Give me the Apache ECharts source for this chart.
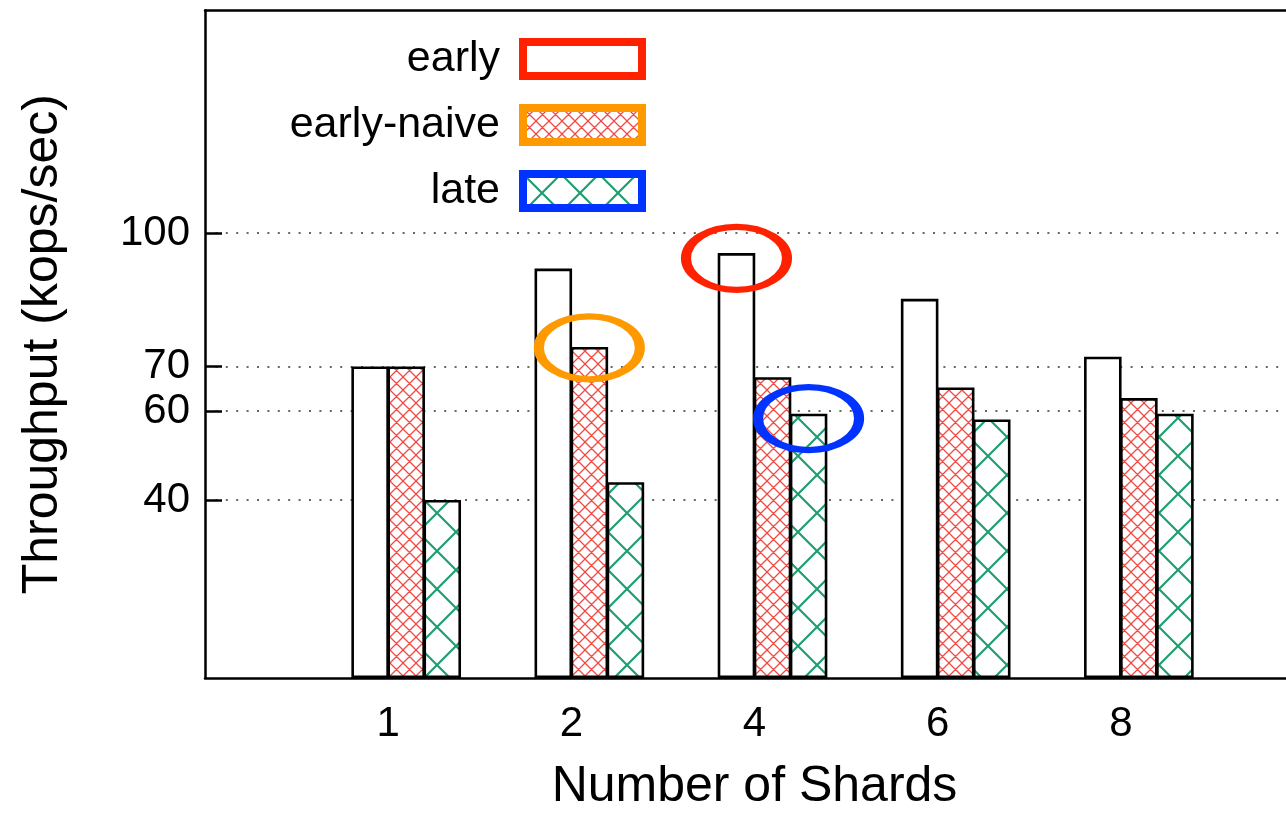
<!DOCTYPE html>
<html><head><meta charset="utf-8">
<script src="https://cdn.jsdelivr.net/npm/echarts@6/dist/echarts.min.js"></script>
<style>html,body{margin:0;padding:0;background:#fff}#c{width:1286px;height:813px}</style>
</head><body><div id="c"></div>
<script>
const categories = ['1', '2', '4', '6', '8'];
const seriesNames = ['early', 'early-naive', 'late'];
const earlyValues = [70, 92, 95.5, 85.2, 72.2];
const naiveValues = [70, 74.4, 67.6, 65.3, 62.9];
const lateValues = [40, 44, 59.4, 58.1, 59.4];
const yTickValues = [40, 60, 70, 100];
const legendBorderColors = ['#ff2200', '#ff9900', '#0033ff'];
// ellipse highlights: series, category, value at ellipse centre
const highlightSeries = ['early', 'early-naive', 'late'];
const highlightCategories = ['4', '2', '4'];
const highlightValues = [94.3, 74.2, 58.3];

function hatch(size, color, width) {
  const c = document.createElement('canvas');
  c.width = size; c.height = size;
  const g = c.getContext('2d');
  g.fillStyle = '#fff'; g.fillRect(0, 0, size, size);
  g.strokeStyle = color; g.lineWidth = width;
  g.beginPath();
  for (const dx of [-size, 0, size]) {
    g.moveTo(dx, 0); g.lineTo(dx + size, size);
    g.moveTo(dx + size, 0); g.lineTo(dx, size);
  }
  g.stroke();
  return c;
}
const fills = [
  '#ffffff',
  { image: hatch(13, '#f04a44', 1.3), repeat: 'repeat' },
  { image: hatch(38, '#1f9e70', 2.2), repeat: 'repeat' }
];
const valueSets = [earlyValues, naiveValues, lateValues];
const axisCats = ['', ...categories, ''];
const pad = v => ['-', ...v, '-'];
const FONT = 'Liberation Sans';
const ellipse = 'path://M0,50C0,22.4 22.4,0 50,0C77.6,0 100,22.4 100,50C100,77.6 77.6,100 50,100C22.4,100 0,77.6 0,50Z';

const series = [{
  name: '_pad', type: 'bar', data: pad(categories.map(() => '-')), barWidth: '20.5%', barGap: '-4%', silent: true
}];
seriesNames.forEach((n, i) => {
  const marks = [];
  highlightSeries.forEach((s, k) => {
    if (s === n) marks.push({ coord: [highlightCategories[k], highlightValues[k]], itemStyle: { borderColor: legendBorderColors[i] } });
  });
  series.push({
    name: n, type: 'bar', data: pad(valueSets[i]), barWidth: '20.5%', barGap: '-4%',
    itemStyle: { color: fills[i], borderColor: '#000', borderWidth: 2.6 },
    emphasis: { disabled: true },
    markPoint: marks.length ? {
      symbol: ellipse, symbolSize: [101, 63], silent: true,
      label: { show: false },
      itemStyle: { color: 'rgba(0,0,0,0)', borderWidth: 8 },
      data: marks
    } : undefined
  });
});

const chart = echarts.init(document.getElementById('c'), null, { renderer: 'canvas' });
chart.setOption({
  animation: false,
  backgroundColor: '#fff',
  textStyle: { fontFamily: FONT, color: '#000' },
  grid: { left: 205, right: -18, top: 10.5, bottom: 135, outerBoundsMode: 'none', containLabel: false },
  legend: {
    orient: 'vertical', right: 640, top: 37, padding: 0, align: 'right',
    itemWidth: 119, itemHeight: 34, itemGap: 22, selectedMode: false, icon: 'rect',
    textStyle: { fontFamily: FONT, fontSize: 43, color: '#000', lineHeight: 44, padding: [0, 18, 0, 0] },
    data: seriesNames.map((n, i) => ({ name: n, itemStyle: { borderColor: legendBorderColors[i], borderWidth: 8 } }))
  },
  xAxis: [{
    type: 'category', data: axisCats, boundaryGap: false,
    axisLine: { lineStyle: { color: '#000', width: 2.5 } },
    axisTick: { show: false },
    axisLabel: { fontFamily: FONT, fontSize: 42, color: '#000', margin: 25, interval: 0 },
    splitLine: { show: false },
    name: 'Number of Shards', nameLocation: 'middle', nameGap: 84,
    nameTextStyle: { fontFamily: FONT, fontSize: 50, color: '#000' }
  }, {
    type: 'category', data: axisCats, boundaryGap: false, position: 'top',
    axisLine: { show: true, lineStyle: { color: '#000', width: 2.5 } },
    axisTick: { show: false }, axisLabel: { show: false }, splitLine: { show: false }
  }],
  yAxis: {
    type: 'value', min: 0, max: 150,
    axisLine: { show: true, lineStyle: { color: '#000', width: 2.5 } },
    axisTick: { show: true, inside: true, length: 17, customValues: yTickValues, lineStyle: { color: '#000', width: 2.5 } },
    axisLabel: { customValues: yTickValues, fontFamily: FONT, fontSize: 42, color: '#000', margin: 15 },
    splitLine: { show: true, lineStyle: { color: '#666', type: [2, 8.4], width: 1.8 } },
    name: 'Throughput (kops/sec)', nameLocation: 'middle', nameGap: 137,
    nameTextStyle: { fontFamily: FONT, fontSize: 50, color: '#000' }
  },
  series
});
</script></body></html>
